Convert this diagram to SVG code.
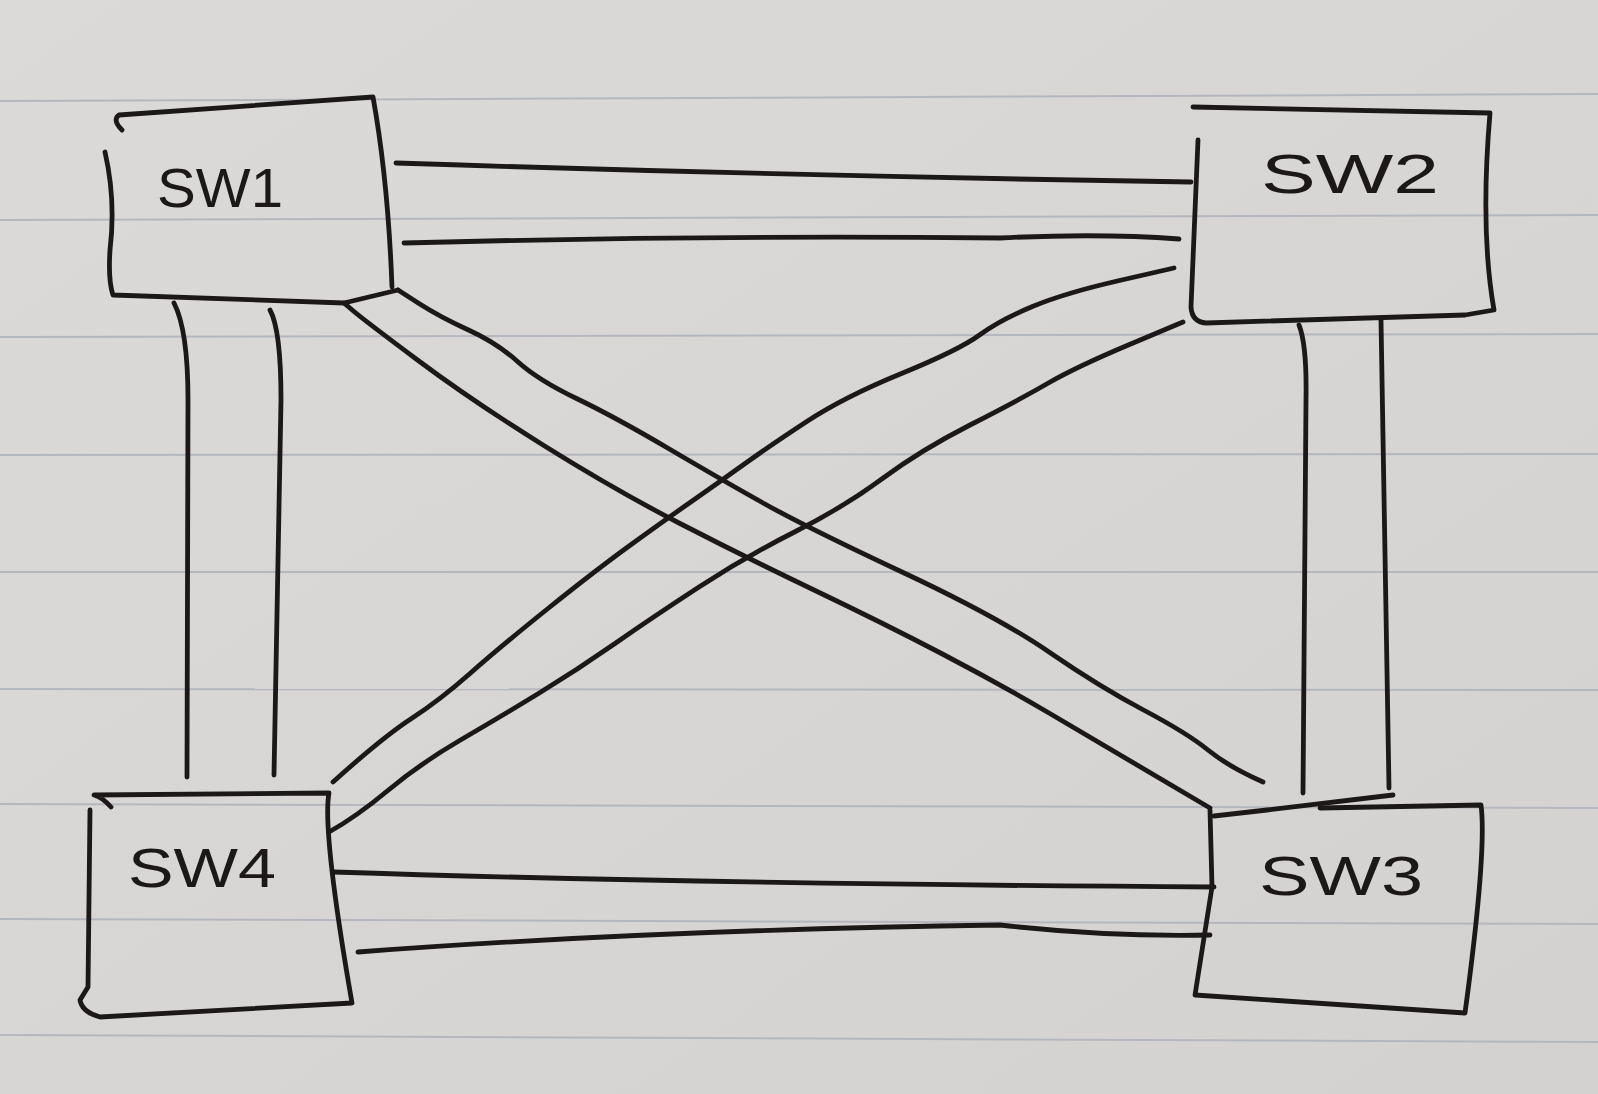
<svg xmlns="http://www.w3.org/2000/svg" width="1598" height="1094" viewBox="0 0 1598 1094">
<defs>
<linearGradient id="paper" x1="0" y1="0" x2="1" y2="1">
<stop offset="0" stop-color="#dcdad9"/>
<stop offset="0.5" stop-color="#d8d6d5"/>
<stop offset="1" stop-color="#d4d2d1"/>
</linearGradient>
<style>
.rule{stroke:#b4b7bd;stroke-width:2;fill:none}
.ink{stroke:#1c1818;stroke-width:4.8;fill:none;stroke-linecap:round;stroke-linejoin:round}
.lbl{font-family:"Liberation Sans",Arial,sans-serif;font-size:56px;fill:#1c1818}
</style>
</defs>
<rect x="0" y="0" width="1598" height="1094" fill="url(#paper)"/>
<g id="ruling">
<path class="rule" d="M0,101 L1598,94"/>
<path class="rule" d="M0,220 L1598,215"/>
<path class="rule" d="M0,337 L1598,334"/>
<path class="rule" d="M0,455 L1598,454"/>
<path class="rule" d="M0,572 L1598,572"/>
<path class="rule" d="M0,689 L1598,690"/>
<path class="rule" d="M0,804 L1598,808"/>
<path class="rule" d="M0,919 L1598,924"/>
<path class="rule" d="M0,1035 L1598,1042"/>
</g>
<g id="connectors">
<path class="ink" d="M396,163 Q800,176 1191,182"/>
<path class="ink" d="M404,243 Q700,235 1000,238 Q1100,233 1179,239"/>
<path class="ink" d="M174,303 Q188,330 188,400 L187,777"/>
<path class="ink" d="M270,310 Q281,330 281,400 L274,775"/>
<path class="ink" d="M344,303 L354,311.5 Q364,320 417.5,360 Q471,400 543,445 Q615,490 680,523.5 Q745,557 814,590 Q883,623 940.5,653 Q998,683 1049,713 Q1100,743 1210,808"/>
<path class="ink" d="M398,290 L419,303.5 Q440,317 468.5,330 Q497,343 517.5,361.5 Q538,380 576.5,398.5 Q615,417 668.5,448.5 Q722,480 764,503.5 Q806,527 902,572 Q998,617 1049,652 Q1100,687 1143.5,710 Q1187,733 1208,750 Q1229,767 1263,782"/>
<path class="ink" d="M1174,268 L1119.5,280.5 Q1065,293 1032.5,306.5 Q1000,320 979.5,335 Q959,350 901.5,373.5 Q844,397 806,422 Q768,447 743,465 Q718,483 691.5,501.5 Q665,520 630.5,545 Q596,570 548,608.5 Q500,647 470,673.5 Q440,700 411.5,718.5 Q383,737 333,782"/>
<path class="ink" d="M1183,322 L1129.5,344.5 Q1076,367 1047.5,383.5 Q1019,400 970,425 Q921,450 882.5,478.5 Q844,507 794.5,532 Q745,557 699,587 Q653,617 615,643.5 Q577,670 538.5,693.5 Q500,717 460.5,740 Q421,763 388.5,790 Q356,817 329,832"/>
<path class="ink" d="M1299,325 Q1307,345 1306,400 L1303,793"/>
<path class="ink" d="M1381,320 L1389,788"/>
<path class="ink" d="M333,872 Q700,884 1214,887"/>
<path class="ink" d="M358,952 Q650,930 1000,925 Q1107,937 1210,935"/>
</g>
<g id="sw1">
<path class="ink" d="M122,130 Q112,120 119,115 L373,97 Q388,180 392,287"/>
<path class="ink" d="M105,152 Q116,200 110,250 Q108,280 113,295 L344,303 L398,290"/>
<text class="lbl" x="157" y="207" textLength="126" lengthAdjust="spacingAndGlyphs">SW1</text>
</g>
<g id="sw2">
<path class="ink" d="M1193,107 L1490,113 Q1480,230 1494,310 L1465,315 L1206,323 Q1192,322 1191,307 L1198,140"/>
<text class="lbl" x="1261" y="193" textLength="178" lengthAdjust="spacingAndGlyphs">SW2</text>
</g>
<g id="sw3">
<path class="ink" d="M1214,816 L1267,810 L1393,795"/>
<path class="ink" d="M1320,808 L1481,805 Q1487,850 1465,1013 L1195,995 L1212,887 L1210,810"/>
<text class="lbl" x="1259" y="895" textLength="164" lengthAdjust="spacingAndGlyphs">SW3</text>
</g>
<g id="sw4">
<path class="ink" d="M111,807 Q102,797 94,795 L329,793 Q322,830 352,1003 L100,1017 Q82,1012 80,1000 L88,987 L90,810"/>
<text class="lbl" x="128" y="887" textLength="148" lengthAdjust="spacingAndGlyphs">SW4</text>
</g>
</svg>
